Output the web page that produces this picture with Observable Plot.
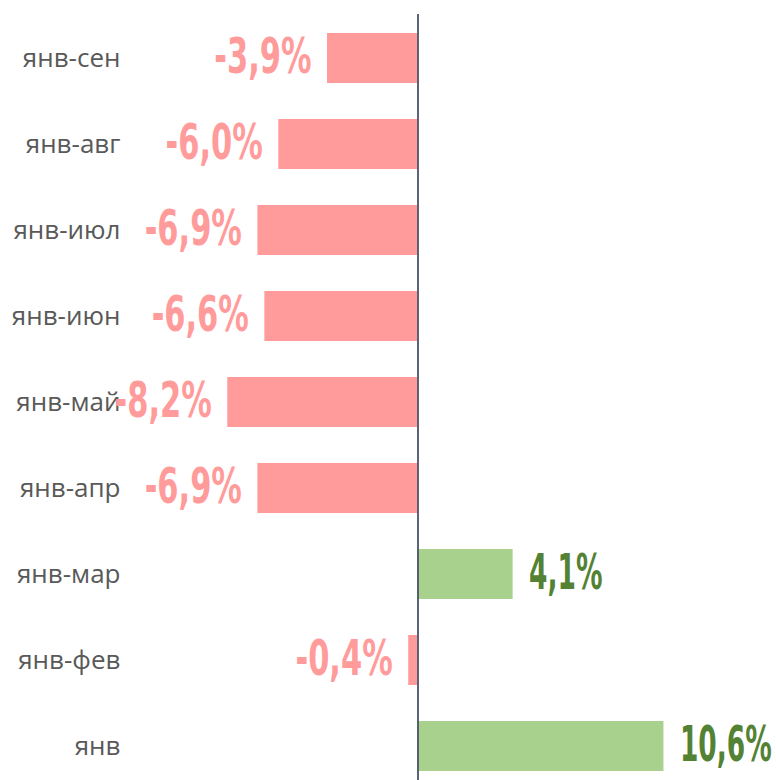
<!DOCTYPE html>
<html>
<head>
<meta charset="utf-8">
<script src="https://cdn.jsdelivr.net/npm/d3@7"></script>
<script src="https://cdn.jsdelivr.net/npm/@observablehq/plot@0.6"></script>
<style>
  html, body { margin: 0; padding: 0; background: #fff; }
  #chart svg { display: block; }
</style>
</head>
<body>
<div id="chart"></div>
<script>
const categories = ["янв-сен", "янв-авг", "янв-июл", "янв-июн", "янв-май", "янв-апр", "янв-мар", "янв-фев", "янв"];
const values = [-3.9, -6.0, -6.9, -6.6, -8.2, -6.9, 4.1, -0.4, 10.6];
const labels = ["-3,9%", "-6,0%", "-6,9%", "-6,6%", "-8,2%", "-6,9%", "4,1%", "-0,4%", "10,6%"];

const data = categories.map((c, i) => ({cat: c, value: values[i], label: labels[i]}));
const neg = data.filter(d => d.value < 0);
const pos = data.filter(d => d.value >= 0);

const valueFont = {fontSize: 50, fontWeight: "bold", fontFamily: "DejaVu Sans, sans-serif", dy: -2, className: "vlabel"};

const chart = Plot.plot({
  width: 776,
  height: 780,
  marginTop: 14,
  marginBottom: 0,
  marginLeft: 122,
  marginRight: 0,
  style: {background: "#fff", overflow: "visible"},
  x: {domain: [-10, 10], range: [417.5 - 232, 417.5 + 232], axis: null},
  y: {domain: categories, range: [13.4, 789.6], paddingInner: 0.42, paddingOuter: 0.21, label: null},
  marks: [
    Plot.barX(data, {y: "cat", x: "value", fill: d => d.value < 0 ? "#FF9B9B" : "#A9D18E"}),
    Plot.ruleX([0], {stroke: "#4A5468", strokeWidth: 1.8}),
    Plot.axisY({tickSize: 0, tickPadding: 2, fontSize: 26, fill: "#595959", fontFamily: "Open Sans", label: null}),
    Plot.text(neg, {y: "cat", x: "value", text: "label", textAnchor: "end", dx: -16, fill: "#FF9B9B", ...valueFont}),
    Plot.text(pos, {y: "cat", x: "value", text: "label", textAnchor: "start", dx: 16, fill: "#548235", ...valueFont})
  ]
});
document.getElementById("chart").appendChild(chart);
// condense the value labels horizontally (the reference uses a narrow display face)
d3.select(chart).selectAll("g.vlabel text").each(function() {
  const t = this.getAttribute("transform") || "";
  const s = this.textContent.includes("1") ? 0.53 : 0.61;
  this.setAttribute("transform", t + ` scale(${s},1)`);
});
</script>
</body>
</html>
